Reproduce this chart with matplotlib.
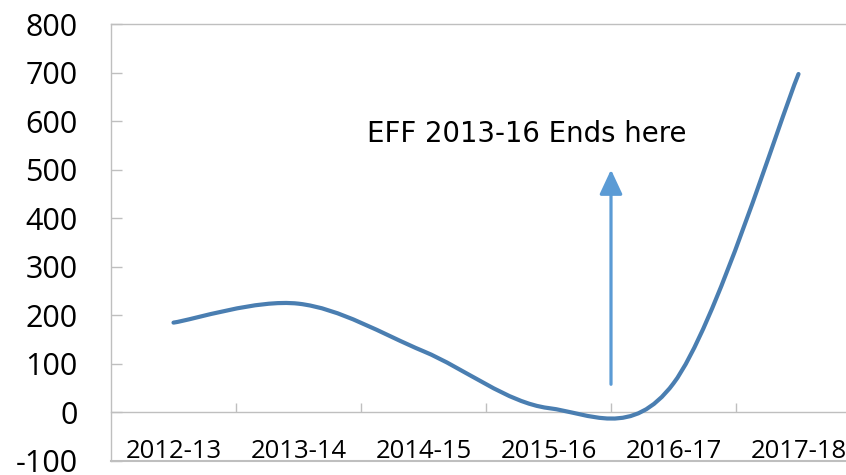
import numpy as np
import matplotlib
matplotlib.use("Agg")
import matplotlib.pyplot as plt
from matplotlib.path import Path
from matplotlib.patches import PathPatch
from matplotlib.ticker import FixedLocator, NullFormatter

categories = ["2012-13", "2013-14", "2014-15", "2015-16", "2016-17", "2017-18"]
values = [185, 224, 126, 9, 60, 697]
y_ticks = [-100, 0, 100, 200, 300, 400, 500, 600, 700, 800]
annotation_text = "EFF 2013-16 Ends here"
arrow_x = 3.5
arrow_from = 58
arrow_to = 500
text_pos = (1.55, 574)

LINE = "#4A7EB1"
ARROW = "#5B9BD5"
GRAY = "#BFBFBF"

W, H = 846, 475
fig = plt.figure(figsize=(W / 100, H / 100), dpi=100)
ax = fig.add_axes([111 / W, 14 / H, 750 / W, 437 / H])
ax.set_xlim(-0.5, len(categories) - 0.5)
ax.set_ylim(y_ticks[0], y_ticks[-1])

# Excel-like smoothed line (cubic Bezier, Catmull-Rom control points)
xs = np.arange(len(values), dtype=float)
pts = np.column_stack([xs, np.array(values, dtype=float)])
ext = np.vstack([pts[0], pts, pts[-1]])
verts = [tuple(pts[0])]
codes = [Path.MOVETO]
for i in range(len(pts) - 1):
    p0, p1, p2, p3 = ext[i], ext[i + 1], ext[i + 2], ext[i + 3]
    c1 = p1 + (p2 - p0) / 6.0
    c2 = p2 - (p3 - p1) / 6.0
    verts += [tuple(c1), tuple(c2), tuple(p2)]
    codes += [Path.CURVE4] * 3
patch = PathPatch(Path(verts, codes), facecolor="none", edgecolor=LINE,
                  lw=3.0, capstyle="round", joinstyle="round", zorder=3)
ax.add_patch(patch)

# spines
for s in ["left", "top", "bottom"]:
    ax.spines[s].set_color(GRAY)
    ax.spines[s].set_linewidth(1.0)
ax.spines["right"].set_visible(False)
ax.spines["bottom"].set_position(("data", 0))
ax.axhline(y_ticks[0], color=GRAY, lw=1.5, zorder=1, clip_on=False)

# y axis
ax.set_yticks(y_ticks)
ax.set_yticklabels([str(v) for v in y_ticks])
ax.tick_params(axis="y", direction="in", length=8, width=1, color=GRAY,
               pad=24, labelsize=22, labelcolor="black")
for lab in ax.get_yticklabels():
    lab.set_fontfamily("Open Sans")

# x axis
ax.set_xticks(xs)
ax.set_xticklabels(categories)
ax.xaxis.set_minor_locator(FixedLocator(xs[:-1] + 0.5))
ax.xaxis.set_minor_formatter(NullFormatter())
ax.tick_params(axis="x", which="major", length=0, pad=19, labelsize=18.5,
               labelcolor="black")
ax.tick_params(axis="x", which="minor", direction="in", length=6.5, width=1,
               color=GRAY)
for lab in ax.get_xticklabels():
    lab.set_fontfamily("Open Sans")

# arrow and annotation
ax.annotate("", xy=(arrow_x, arrow_to), xytext=(arrow_x, arrow_from),
            arrowprops=dict(arrowstyle="-|>,head_length=0.6,head_width=0.28",
                            color=ARROW, lw=2.3, mutation_scale=25,
                            shrinkA=0, shrinkB=0), zorder=4)
ax.text(text_pos[0], text_pos[1], annotation_text, fontsize=19.8,
        family="DejaVu Sans", ha="left", va="center", color="black")

fig.savefig("out.png", dpi=100)
